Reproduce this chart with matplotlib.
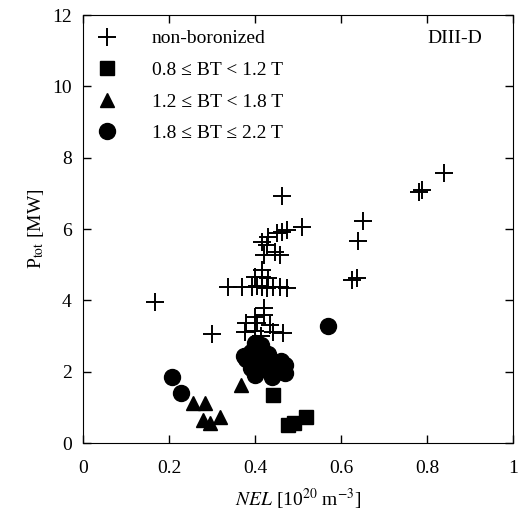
import numpy as np
import matplotlib
matplotlib.use("Agg")
import matplotlib.pyplot as plt

plt.rcParams['font.family'] = ['Liberation Serif', 'DejaVu Serif']
plt.rcParams['mathtext.fontset'] = 'stix'

# non-boronized (crosses)
nb_x = [0.167, 0.30, 0.84, 0.788, 0.78, 0.651, 0.64, 0.625, 0.637, 0.463,
        0.509, 0.474, 0.462, 0.45, 0.43, 0.416, 0.428, 0.458, 0.42, 0.447,
        0.337, 0.37, 0.393, 0.405, 0.416, 0.428, 0.442, 0.458, 0.474, 0.40,
        0.416, 0.43, 0.416, 0.42, 0.40, 0.42, 0.38, 0.405, 0.435, 0.377,
        0.442, 0.465, 0.40, 0.415]
nb_y = [3.95, 3.05, 7.58, 7.09, 7.03, 6.22, 5.66, 4.57, 4.62, 6.92,
        6.05, 5.97, 5.92, 5.88, 5.77, 5.63, 5.55, 5.27, 5.27, 5.35,
        4.37, 4.37, 4.37, 4.40, 4.37, 4.35, 4.37, 4.37, 4.35, 4.65,
        4.65, 4.62, 4.85, 3.80, 3.53, 3.58, 3.36, 3.36, 3.30, 3.10,
        3.10, 3.08, 3.15, 3.00]

# 0.8 <= BT < 1.2 T (squares)
sq_x = [0.442, 0.477, 0.519, 0.49]
sq_y = [1.34, 0.50, 0.72, 0.55]

# 1.2 <= BT < 1.8 T (triangles)
tr_x = [0.367, 0.256, 0.284, 0.279, 0.295, 0.319]
tr_y = [1.62, 1.12, 1.12, 0.64, 0.56, 0.73]

# 1.8 <= BT <= 2.2 T (circles)
ci_x = [0.57, 0.207, 0.228, 0.40, 0.415, 0.39, 0.41, 0.43, 0.38, 0.40,
        0.42, 0.44, 0.46, 0.39, 0.41, 0.43, 0.45, 0.47, 0.40, 0.44,
        0.42, 0.45, 0.375, 0.47]
ci_y = [3.28, 1.85, 1.40, 2.80, 2.75, 2.55, 2.60, 2.50, 2.35, 2.30,
        2.35, 2.30, 2.30, 2.10, 2.05, 2.10, 2.00, 1.95, 1.90, 1.85,
        2.20, 2.15, 2.45, 2.20]

labels = ['non-boronized', '0.8 \u2264 BT < 1.2 T',
          '1.2 \u2264 BT < 1.8 T', '1.8 \u2264 BT \u2264 2.2 T']

fig = plt.figure(figsize=(5.28, 5.2), dpi=100)
ax = fig.add_axes([0.157, 0.148, 0.815, 0.823])

ax.plot(nb_x, nb_y, ls='none', marker='+', ms=13, mew=1.4, color='black', label=labels[0])
ax.plot(sq_x, sq_y, ls='none', marker='s', ms=10.5, color='black', label=labels[1])
ax.plot(tr_x, tr_y, ls='none', marker='^', ms=10.5, color='black', label=labels[2])
ax.plot(ci_x, ci_y, ls='none', marker='o', ms=11.5, color='black', label=labels[3])

ax.set_xlim(0, 1)
ax.set_ylim(0, 12)
ax.set_xticks([0, 0.2, 0.4, 0.6, 0.8, 1])
ax.set_xticklabels(['0', '0.2', '0.4', '0.6', '0.8', '1'])
ax.set_yticks([0, 2, 4, 6, 8, 10, 12])
ax.tick_params(direction='in', top=True, right=True, length=6, width=1,
               labelsize=14)
ax.tick_params(axis='x', pad=12)
ax.tick_params(axis='y', pad=8)

ax.set_xlabel(r'$\it{NEL}$ [10$^{20}$ m$^{-3}$]', fontsize=14, labelpad=7)
ax.set_ylabel(r'P$_{\rm tot}$ [MW]', fontsize=14, labelpad=4)

ax.text(0.80, 11.35, 'DIII-D', fontsize=14, ha='left', va='center')

leg = ax.legend(loc='upper left', bbox_to_anchor=(0.0, 0.995), frameon=False,
                fontsize=14, handlelength=1.2, handletextpad=1.7,
                labelspacing=0.72, borderaxespad=0.25, numpoints=1)

fig.savefig('out.png', dpi=100)
